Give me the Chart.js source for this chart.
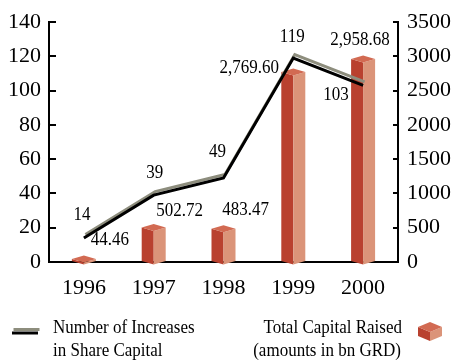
<!DOCTYPE html>
<html>
<head>
<meta charset="utf-8">
<script src="https://cdn.jsdelivr.net/npm/chart.js@4/dist/chart.umd.min.js"></script>
<style>
  html, body { margin: 0; padding: 0; background: #fff; }
</style>
</head>
<body>
<canvas id="capital-chart" width="451" height="362"></canvas>
<script>
const years = ["1996", "1997", "1998", "1999", "2000"];
const increases = [14, 39, 49, 119, 103];
const capital_raised = [44.46, 502.72, 483.47, 2769.6, 2958.68];
const increase_ticks = [0, 20, 40, 60, 80, 100, 120, 140];
const capital_ticks = [0, 500, 1000, 1500, 2000, 2500, 3000, 3500];

// where each value label sits relative to its point / bar top (px)
const increase_label_offsets = [[-2, -23], [1, -22], [-6, -26], [-1, -21], [-27, 10]];
const capital_label_offsets = [[26, -19], [26, -17], [22, -19], [-44, -4], [-3, -19]];

const FONT = "'Liberation Serif', 'Times New Roman', serif";
const FACE_DARK = "#b9412f";
const FACE_LIGHT = "#db9479";
const FACE_TOP = "#d26a52";
const RIBBON_GREY = "#8d8d7d";
const TEXT_STRETCH = 1.12; // the serif face is drawn a little taller than wide

const draw_prism = (ctx, left, right, top, base, depth) => {
  const mid = (left + right) / 2;
  ctx.fillStyle = FACE_DARK;
  ctx.beginPath();
  ctx.moveTo(left, top);
  ctx.lineTo(mid, top + depth);
  ctx.lineTo(mid, base + depth);
  ctx.lineTo(left, base);
  ctx.closePath();
  ctx.fill();

  ctx.fillStyle = FACE_LIGHT;
  ctx.beginPath();
  ctx.moveTo(mid, top + depth);
  ctx.lineTo(right, top);
  ctx.lineTo(right, base);
  ctx.lineTo(mid, base + depth);
  ctx.closePath();
  ctx.fill();

  ctx.fillStyle = FACE_TOP;
  ctx.beginPath();
  ctx.moveTo(left, top);
  ctx.lineTo(mid, top - depth);
  ctx.lineTo(right, top);
  ctx.lineTo(mid, top + depth);
  ctx.closePath();
  ctx.fill();
};

const set_ribbon_shadow = (ctx) => {
  ctx.shadowColor = RIBBON_GREY;
  ctx.shadowBlur = 0;
  ctx.shadowOffsetX = 1.5;
  ctx.shadowOffsetY = -3.5;
};

const tall_text = (ctx, text, x, y) => {
  ctx.save();
  ctx.scale(1, TEXT_STRETCH);
  ctx.fillText(text, x, y / TEXT_STRETCH);
  ctx.restore();
};

const format_capital = (v) =>
  v.toLocaleString("en-US", { minimumFractionDigits: 2, maximumFractionDigits: 2 });

// fixed axis widths, and no extra room reserved for the end tick labels
const fit_y_axis = (width) => (scale) => {
  scale.width = width;
  scale.paddingTop = 0;
  scale.paddingBottom = 0;
};

const prism_bars = {
  id: "prism_bars",
  beforeDatasetDraw(chart, args) {
    const ctx = chart.ctx;
    if (args.meta.type === "bar") {
      ctx.save();
      args.meta.data.forEach((bar) => {
        const half = bar.width / 2;
        draw_prism(ctx, bar.x - half, bar.x + half, bar.y, bar.base, 3.5);
      });
      ctx.restore();
      return false;
    }
    if (args.meta.type === "line") {
      ctx.save();
      set_ribbon_shadow(ctx);
    }
  },
  afterDatasetDraw(chart, args) {
    if (args.meta.type === "line") chart.ctx.restore();
  },
};

const value_labels = {
  id: "value_labels",
  afterDatasetsDraw(chart) {
    const ctx = chart.ctx;
    ctx.save();
    ctx.fillStyle = "#000";
    ctx.font = `17px ${FONT}`;
    ctx.textAlign = "center";
    ctx.textBaseline = "middle";
    chart.getDatasetMeta(1).data.forEach((pt, i) => {
      const [dx, dy] = increase_label_offsets[i];
      tall_text(ctx, String(increases[i]), pt.x + dx, pt.y + dy);
    });
    chart.getDatasetMeta(0).data.forEach((bar, i) => {
      const [dx, dy] = capital_label_offsets[i];
      tall_text(ctx, format_capital(capital_raised[i]), bar.x + dx, bar.y + dy);
    });
    ctx.restore();
  },
};

const bottom_legend = {
  id: "bottom_legend",
  afterDraw(chart) {
    const ctx = chart.ctx;
    ctx.save();
    // ribbon sample for the line series
    set_ribbon_shadow(ctx);
    ctx.strokeStyle = "#000";
    ctx.lineWidth = 3;
    ctx.beginPath();
    ctx.moveTo(12, 333);
    ctx.lineTo(38, 333);
    ctx.stroke();
    ctx.restore();

    ctx.save();
    draw_prism(ctx, 418, 442, 327, 336, 5);
    ctx.fillStyle = "#000";
    ctx.font = `17px ${FONT}`;
    ctx.textBaseline = "middle";
    ctx.textAlign = "left";
    tall_text(ctx, "Number of Increases", 53, 328);
    tall_text(ctx, "in Share Capital", 53, 351);
    ctx.textAlign = "right";
    tall_text(ctx, "Total Capital Raised", 402, 328);
    tall_text(ctx, "(amounts in bn GRD)", 401, 351);
    ctx.restore();
  },
};

const tick_font = { family: FONT, size: 22 };

const config = {
  data: {
    labels: years,
    datasets: [
      {
        type: "bar",
        label: "Total Capital Raised (amounts in bn GRD)",
        data: capital_raised,
        yAxisID: "y1",
        backgroundColor: "rgba(0,0,0,0)",
        barThickness: 24,
        order: 1,
      },
      {
        type: "line",
        label: "Number of Increases in Share Capital",
        data: increases,
        yAxisID: "y",
        borderColor: "#000",
        borderWidth: 3,
        borderJoinStyle: "miter",
        pointRadius: 0,
        tension: 0,
        fill: false,
        order: 0,
      },
    ],
  },
  options: {
    responsive: false,
    animation: false,
    layout: { padding: { top: 22, left: 0, right: 0, bottom: 0 } },
    plugins: {
      legend: { display: false },
      tooltip: { enabled: false },
    },
    scales: {
      x: {
        offset: true,
        grid: { display: true, drawOnChartArea: false, drawTicks: false },
        border: { display: true, color: "#000", width: 2 },
        ticks: { color: "#000", font: tick_font, padding: 13, maxRotation: 0 },
        afterFit: (scale) => { scale.height = 100; },
      },
      y: {
        position: "left",
        min: increase_ticks[0],
        max: increase_ticks[increase_ticks.length - 1],
        ticks: { stepSize: increase_ticks[1] - increase_ticks[0], color: "#000", font: tick_font, padding: 15 },
        grid: { drawOnChartArea: false, tickLength: -7, lineWidth: 2, color: "#000" },
        border: { display: true, color: "#000", width: 2 },
        afterFit: fit_y_axis(49),
      },
      y1: {
        position: "right",
        min: capital_ticks[0],
        max: capital_ticks[capital_ticks.length - 1],
        ticks: {
          stepSize: capital_ticks[1] - capital_ticks[0],
          color: "#000",
          font: tick_font,
          padding: 14,
          callback: (value) => String(value),
        },
        grid: { drawOnChartArea: false, tickLength: -5, lineWidth: 2, color: "#000" },
        border: { display: true, color: "#000", width: 2 },
        afterFit: fit_y_axis(53),
      },
    },
  },
  plugins: [prism_bars, value_labels, bottom_legend],
};

new Chart(document.getElementById("capital-chart"), config);
</script>
</body>
</html>
